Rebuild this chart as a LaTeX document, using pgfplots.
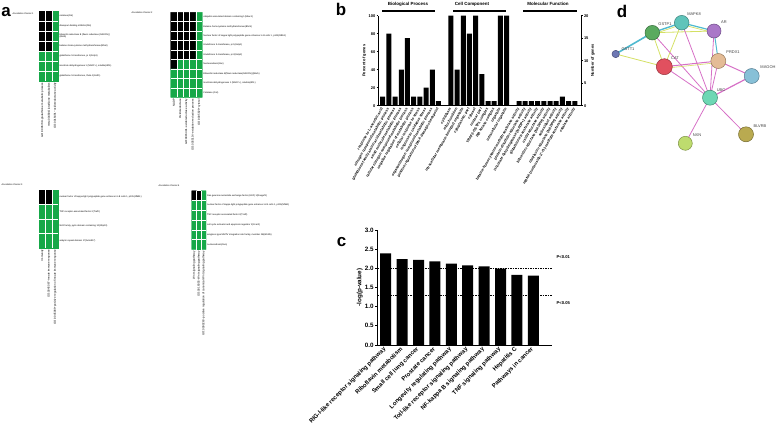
\documentclass[border=0pt]{standalone}
\usepackage{pgfplots}
\pgfplotsset{compat=1.18}
\usepackage{fontspec}
\setmainfont{Liberation Sans}
\definecolor{hmgreen}{RGB}{22,168,72}
\definecolor{epink}{RGB}{214,112,198}
\definecolor{eyel}{RGB}{212,224,100}
\definecolor{ecyan}{RGB}{80,186,208}
\newcommand{\fs}[1]{\fontsize{#1}{#1}\selectfont}
\pgfplotsset{
  hm/.style={
    scale only axis, anchor=north west, clip=false,
    axis line style={draw=none}, major tick length=0pt, minor tick length=0pt,
    y dir=reverse,
    colormap={bg}{color=(black) color=(hmgreen)},
    point meta min=0, point meta max=1,
    xminorgrids=true, yminorgrids=true,
    minor grid style={white, line width=0.6bp},
    axis on top,
    yticklabel pos=right,
    yticklabel style={anchor=west, font=\fs{2.3}, inner sep=1bp, align=left},
    xticklabel style={rotate=90, anchor=east, font=\fs{2.8}, inner sep=1.5bp},
  },
}
\begin{document}
\begin{tikzpicture}
\useasboundingbox (0,0) rectangle (778bp,-435bp);

% ---------------- panel labels
\node[font=\fs{17}\bfseries] at (6bp,-12bp) {a};
\node[font=\fs{17}\bfseries] at (341bp,-9.5bp) {b};
\node[font=\fs{17}\bfseries] at (341.5bp,-242bp) {c};
\node[font=\fs{17}\bfseries] at (622bp,-11bp) {d};

% ---------------- panel a : cluster headers
\node[anchor=east, font=\fs{2.3}] at (37bp,-14bp) {Annotation Cluster 1};
\node[anchor=east, font=\fs{2.3}] at (156bp,-13bp) {Annotation Cluster 2};
\node[anchor=east, font=\fs{2.3}] at (26bp,-185bp) {Annotation Cluster 3};
\node[anchor=east, font=\fs{2.3}] at (183bp,-186bp) {Annotation Cluster 4};

% cluster 1
\begin{axis}[hm, at={(39.3bp,-11bp)}, width=19bp, height=70bp,
  xmin=-0.5, xmax=2.5, ymin=-0.5, ymax=6.5,
  xtick={0,1,2}, ytick={0,...,6},
  minor xtick={0.5,1.5}, minor ytick={0.5,1.5,...,5.5},
  xticklabels={GO:0006749\textasciitilde glutathione metabolic process,
    mmu00480:Glutathione metabolism,
    GO:0016491\textasciitilde oxidoreductase activity},
  yticklabels={catalase(Cat), diazepam binding inhibitor(Dbi),
    {biliverdin reductase B (flavin reductase (NADPH))\\(Blvrb)},
    betaine-homocysteine methyltransferase(Bhmt),
    {glutathione S-transferase, pi 1(Gstp1)},
    {isocitrate dehydrogenase 1 (NADP+), soluble(Idh1)},
    {glutathione S-transferase, theta 1(Gstt1)}}]
\addplot[matrix plot*, mesh/cols=3, mesh/rows=7, point meta=explicit] table[meta=c]{
x y c
0 0 0
1 0 0
2 0 1
0 1 0
1 1 0
2 1 1
0 2 0
1 2 0
2 2 1
0 3 0
1 3 0
2 3 1
0 4 1
1 4 1
2 4 1
0 5 1
1 5 1
2 5 1
0 6 1
1 6 1
2 6 1
};
\end{axis}

% cluster 2
\begin{axis}[hm, at={(170.7bp,-12.3bp)}, width=31.6bp, height=85bp,
  xmin=-0.5, xmax=4.5, ymin=-0.5, ymax=8.5,
  xtick={0,...,4}, ytick={0,...,8},
  minor xtick={0.5,1.5,...,3.5}, minor ytick={0.5,1.5,...,7.5},
  xticklabels={NADP, Oxidoreductase,
    GO:0016491\textasciitilde oxidoreductase activity,
    GO:0055114\textasciitilde oxidation-reduction process,
    GO:0005829\textasciitilde cytosol},
  yticklabels={ubiquitin associated domain containing 1(Ubac1),
    Betaine-homocysteine methyltransferase(Bhmt),
    {Nuclear factor of kappa light polypeptide gene enhancer in B cells 1, p105(Nfkb1)},
    {Glutathione S-transferase, pi 1(Gstp1)},
    {Glutathione S-transferase, pi 2(Gstp2)},
    Nucleoredoxin(Nxn),
    Biliverdin reductase B(flavin reductase(NADPH))(Blvrb),
    {Isocitrate dehydrogenase 1 (NADP+), soluble(Idh1)},
    Catalase (Cat)}]
\addplot[matrix plot*, mesh/cols=5, mesh/rows=9, point meta=explicit] table[meta=c]{
x y c
0 0 0
1 0 0
2 0 0
3 0 0
4 0 1
0 1 0
1 1 0
2 1 0
3 1 0
4 1 1
0 2 0
1 2 0
2 2 0
3 2 0
4 2 1
0 3 0
1 3 0
2 3 0
3 3 0
4 3 1
0 4 0
1 4 0
2 4 0
3 4 0
4 4 1
0 5 0
1 5 1
2 5 1
3 5 1
4 5 1
0 6 1
1 6 1
2 6 1
3 6 1
4 6 1
0 7 1
1 7 1
2 7 1
3 7 1
4 7 1
0 8 1
1 8 1
2 8 1
3 8 1
4 8 1
};
\end{axis}

% cluster 3
\begin{axis}[hm, at={(39.3bp,-190bp)}, width=19bp, height=58bp,
  xmin=-0.5, xmax=2.5, ymin=-0.5, ymax=3.5,
  xtick={0,1,2}, ytick={0,...,3},
  minor xtick={0.5,1.5}, minor ytick={0.5,1.5,2.5},
  xticklabels={Immunity,
    GO:0045087\textasciitilde innate immune response,
    GO:0045089\textasciitilde positive regulation of innate immune response},
  yticklabels={{nuclear factor of kappa light polypeptide gene enhancer in B cells 1, p105(Nfkb1)},
    TNF receptor-associated factor 2(Traf2),
    {NLR family, pyrin domain containing 10(Nlrp10)},
    ankyrin repeat domain 17(Ankrd17)}]
\addplot[matrix plot*, mesh/cols=3, mesh/rows=4, point meta=explicit] table[meta=c]{
x y c
0 0 0
1 0 0
2 0 1
0 1 1
1 1 1
2 1 1
0 2 1
1 2 1
2 2 1
0 3 1
1 3 1
2 3 1
};
\end{axis}

% cluster 4
\begin{axis}[hm, at={(191.7bp,-190.7bp)}, width=14.3bp, height=58.8bp,
  xmin=-0.5, xmax=2.5, ymin=-0.5, ymax=5.5,
  xtick={0,1,2}, ytick={0,...,5},
  minor xtick={0.5,1.5}, minor ytick={0.5,1.5,...,4.5},
  xticklabels={Wnt signaling pathway,
    GO:0016055\textasciitilde Wnt signaling pathway,
    GO:0090263\textasciitilde positive regulation of canonical Wnt signaling pathway},
  yticklabels={Ras guanine nucleotide exchange factor (GEF) 1(Rasgef1),
    {nuclear factor of kappa light polypeptide gene enhancer in B cells 1, p105(Nfkb1)},
    TNF receptor-associated factor 2(Traf2),
    cell cycle activator and apoptosis regulator 2(Ccar2),
    {wingless-type MMTV integration site family, member 2B(Wnt2b)},
    nucleoredoxin(Nxn)}]
\addplot[matrix plot*, mesh/cols=3, mesh/rows=6, point meta=explicit] table[meta=c]{
x y c
0 0 0
1 0 0
2 0 1
0 1 1
1 1 1
2 1 1
0 2 1
1 2 1
2 2 1
0 3 1
1 3 1
2 3 1
0 4 1
1 4 1
2 4 1
0 5 1
1 5 1
2 5 1
};
\end{axis}

% ---------------- panel b
\node[font=\fs{4.5}\bfseries] at (408bp,-4bp) {Biological Process};
\draw[line width=2bp] (382bp,-10.7bp) -- (435bp,-10.7bp);
\node[font=\fs{4.5}\bfseries] at (472bp,-4bp) {Cell Component};
\draw[line width=2bp] (453bp,-10.7bp) -- (506bp,-10.7bp);
\node[font=\fs{4.5}\bfseries] at (548bp,-4bp) {Molecular Function};
\draw[line width=2bp] (523bp,-10.7bp) -- (577bp,-10.7bp);

\begin{axis}[
  at={(378.3bp,-105.7bp)}, anchor=south west, scale only axis,
  width=202.7bp, height=90bp,
  xmin=-0.71, xmax=32, ymin=0, ymax=100,
  axis x line*=bottom, axis y line*=left,
  axis line style={line width=0.6bp},
  tick style={line width=0.6bp, black}, major tick length=1.8bp, tick align=outside,
  xtick style={draw=none},
  /pgf/number format/assume math mode=true,
  ytick={0,20,40,60,80,100},
  yticklabel style={font=\fs{4}\bfseries, inner sep=1bp},
  ylabel={Percent of genes}, ylabel style={font=\fs{4}\bfseries, yshift=-2bp},
  xtick={0,1,2,3,4,5,6,7,8,9,11,12,13,14,15,16,17,18,19,20,22,23,24,25,26,27,28,29,30,31},
  xticklabels={response to L-ascorbic acid,
    nitrogen compound metabolic process,
    glutathione family amino acid metabolic process,
    small molecule metabolic process,
    cellular nitrogen compound metabolic process,
    negative regulation of metabolic process,
    cellular response to stress,
    response to oxidative stress,
    organonitrogen compound metabolic process,
    positive regulation of DNA damage checkpoint,
    cytoplasm, mitochondrion,
    intracellular membrane-bounded organelle,
    cytoplasmic part, cytosol, nuclear part,
    TRAF2-GSTP1 complex, IkB kinase complex,
    organelle, intracellular organelle,
    betaine-homocysteine methyltransferase activity,
    protein-disulfide reductase activity,
    isocitrate dehydrogenase (NADP+) activity,
    glutathione transferase activity,
    oxidoreductase activity,
    biliverdin reductase (NADPH) activity,
    antioxidant activity,
    riboflavin reductase (NADPH) activity,
    mRNA (nucleoside-2'-O-)-methyltransferase activity,
    catalase activity},
  xticklabel style={rotate=60, anchor=east, font=\fs{3.6}\bfseries, inner sep=0.8bp},
]
\addplot[ybar, bar width=5bp, fill=black, draw=none] coordinates {
(0,10) (1,80) (2,10) (3,40) (4,75) (5,10) (6,10) (7,20) (8,40) (9,5)
(11,100) (12,40) (13,100) (14,80) (15,100) (16,35) (17,5) (18,5) (19,100) (20,100)
(22,5) (23,5) (24,5) (25,5) (26,5) (27,5) (28,5) (29,10) (30,5) (31,5)};
\end{axis}
\begin{axis}[
  at={(378.3bp,-105.7bp)}, anchor=south west, scale only axis,
  width=202.7bp, height=90bp,
  xmin=-0.71, xmax=32, ymin=0, ymax=20,
  axis y line*=right, axis x line=none,
  axis line style={line width=0.6bp},
  tick style={line width=0.6bp, black}, major tick length=1.8bp, tick align=outside,
  /pgf/number format/assume math mode=true,
  ytick={0,5,10,15,20},
  yticklabel style={font=\fs{4}\bfseries, inner sep=1bp},
  ylabel={Number of genes}, ylabel style={font=\fs{4}\bfseries, yshift=2bp},
]
\addplot[draw=none] coordinates {(0,0)};
\end{axis}

% ---------------- panel c
\begin{axis}[
  at={(377.7bp,-345bp)}, anchor=south west, scale only axis,
  width=174bp, height=115bp,
  xmin=-0.49, xmax=10.12, ymin=0, ymax=3,
  axis x line*=bottom, axis y line*=left,
  axis line style={line width=1bp},
  tick style={line width=1bp, black}, major tick length=2.5bp, tick align=outside,
  xtick style={draw=none},
  clip=false,
  /pgf/number format/assume math mode=true,
  ytick={0,0.5,1,1.5,2,2.5,3},
  yticklabel style={font=\fs{6.3}\bfseries, inner sep=1.5bp, /pgf/number format/.cd, fixed, fixed zerofill, precision=1},
  ylabel={-log(p-value)}, ylabel style={font=\fs{6.3}\bfseries, yshift=-3bp},
  xtick={0,...,9},
  xticklabels={RIG-I-like receptor signaling pathway,
    Riboflavin metabolism, Small cell lung cancer, Prostate cancer,
    Longevity regulating pathway, Toll-like receptor signaling pathway,
    NF-kappa B signaling pathway, TNF signaling pathway,
    Hepatitis C, Pathways in cancer},
  xticklabel style={rotate=45, anchor=east, font=\fs{6}\bfseries, inner sep=1bp},
]
\addplot[ybar, bar width=11bp, fill=black, draw=none] coordinates {
(0,2.39) (1,2.24) (2,2.22) (3,2.18) (4,2.12) (5,2.08) (6,2.05) (7,1.99) (8,1.83) (9,1.81)};
\addplot[dash pattern=on 1.5bp off 1bp, line width=0.7bp] coordinates {(-0.49,2) (10.12,2)};
\addplot[dash pattern=on 1.5bp off 1bp, line width=0.7bp] coordinates {(-0.49,1.3) (10.12,1.3)};
\end{axis}
\node[anchor=west, font=\fs{4.2}\bfseries] at (553bp,-257bp) {P<0.01};
\node[anchor=west, font=\fs{4.2}\bfseries] at (553bp,-303bp) {P<0.05};

% ---------------- panel d
\begin{axis}[
  at={(600bp,0bp)}, anchor=north west, scale only axis,
  width=178bp, height=200bp, xmin=600, xmax=778, ymin=0, ymax=200,
  y dir=reverse, hide axis, clip=false,
]
% edges
\addplot[ecyan, line width=1.6bp] coordinates {(615.7,54) (652.3,32.7)};
\addplot[eyel, line width=0.8bp] coordinates {(615.7,54) (664.3,66.7)};
\addplot[ecyan, line width=1.4bp] coordinates {(652.3,32.7) (681.7,22.7)};
\addplot[eyel, line width=0.7bp] coordinates {(652.3,34.5) (681.7,24.5)};
\addplot[eyel, line width=0.8bp] coordinates {(652.3,32.7) (714,31)};
\addplot[eyel, line width=0.8bp] coordinates {(652.3,32.7) (664.3,66.7)};
\addplot[ecyan, line width=1.2bp] coordinates {(681.7,22.7) (714,31)};
\addplot[eyel, line width=0.7bp] coordinates {(681.7,24.5) (714,32.8)};
\addplot[eyel, line width=0.8bp] coordinates {(681.7,22.7) (664.3,66.7)};
\addplot[epink, line width=0.8bp] coordinates {(652.3,32.7) (710,97.7)};
\addplot[epink, line width=0.8bp] coordinates {(681.7,22.7) (710,97.7)};
\addplot[epink, line width=1bp] coordinates {(664.3,66.7) (718.3,61)};
\addplot[eyel, line width=0.6bp] coordinates {(664.3,68.3) (718.3,62.6)};
\addplot[epink, line width=0.8bp] coordinates {(664.3,66.7) (710,97.7)};
\addplot[ecyan, line width=1bp] coordinates {(714,31) (718.3,61)};
\addplot[epink, line width=0.8bp] coordinates {(714,31) (710,97.7)};
\addplot[epink, line width=0.8bp] coordinates {(718.3,61) (710,97.7)};
\addplot[epink, line width=1bp] coordinates {(718.3,61) (751.7,76)};
\addplot[epink, line width=1.2bp] coordinates {(751.7,76) (710,97.7)};
\addplot[epink, line width=0.8bp] coordinates {(710,97.7) (685.3,143.3)};
\addplot[epink, line width=0.8bp] coordinates {(710,97.7) (746,134.3)};
% nodes
\addplot[only marks, mark=*, mark size=7.3bp, mark options={fill={rgb,255:red,95;green,196;blue,186}, draw={rgb,255:red,60;green,130;blue,125}, line width=0.5bp}] coordinates {(681.7,22.7)};
\addplot[only marks, mark=*, mark size=7.3bp, mark options={fill={rgb,255:red,90;green,170;blue,95}, draw={rgb,255:red,55;green,110;blue,60}, line width=0.5bp}] coordinates {(652.3,32.7)};
\addplot[only marks, mark=*, mark size=7bp, mark options={fill={rgb,255:red,170;green,120;blue,200}, draw={rgb,255:red,110;green,75;blue,135}, line width=0.5bp}] coordinates {(714,31)};
\addplot[only marks, mark=*, mark size=3.7bp, mark options={fill={rgb,255:red,110;green,120;blue,180}, draw={rgb,255:red,70;green,75;blue,120}, line width=0.5bp}] coordinates {(615.7,54)};
\addplot[only marks, mark=*, mark size=8bp, mark options={fill={rgb,255:red,225;green,80;blue,95}, draw={rgb,255:red,150;green,50;blue,60}, line width=0.5bp}] coordinates {(664.3,66.7)};
\addplot[only marks, mark=*, mark size=7.5bp, mark options={fill={rgb,255:red,228;green,188;blue,150}, draw={rgb,255:red,150;green,120;blue,90}, line width=0.5bp}] coordinates {(718.3,61)};
\addplot[only marks, mark=*, mark size=7.5bp, mark options={fill={rgb,255:red,135;green,192;blue,215}, draw={rgb,255:red,85;green,125;blue,145}, line width=0.5bp}] coordinates {(751.7,76)};
\addplot[only marks, mark=*, mark size=7.5bp, mark options={fill={rgb,255:red,110;green,215;blue,180}, draw={rgb,255:red,65;green,140;blue,115}, line width=0.5bp}] coordinates {(710,97.7)};
\addplot[only marks, mark=*, mark size=7bp, mark options={fill={rgb,255:red,190;green,220;blue,110}, draw={rgb,255:red,125;green,145;blue,70}, line width=0.5bp}] coordinates {(685.3,143.3)};
\addplot[only marks, mark=*, mark size=7.5bp, mark options={fill={rgb,255:red,185;green,170;blue,80}, draw={rgb,255:red,120;green,110;blue,50}, line width=0.5bp}] coordinates {(746,134.3)};
% labels
\node[font=\fs{4}, text=black!75] at (axis cs:694,14) {MAPK8};
\node[font=\fs{4}, text=black!75] at (axis cs:665,24) {GSTP1};
\node[font=\fs{4}, text=black!75] at (axis cs:724,22) {AR};
\node[font=\fs{4}, text=black!75] at (axis cs:628,49) {GSTT1};
\node[font=\fs{4}, text=black!75] at (axis cs:675,58) {CAT};
\node[font=\fs{4}, text=black!75] at (axis cs:733,52) {PRDX1};
\node[font=\fs{4}, text=black!75] at (axis cs:768,67) {MAGOH};
\node[font=\fs{4}, text=black!75] at (axis cs:721,90) {UBC};
\node[font=\fs{4}, text=black!75] at (axis cs:697,135) {NXN};
\node[font=\fs{4}, text=black!75] at (axis cs:760,126) {BLVRB};
\end{axis}
\end{tikzpicture}
\end{document}
